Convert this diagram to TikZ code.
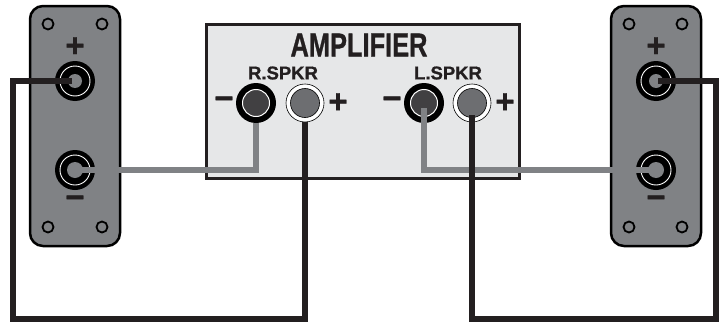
\documentclass[tikz,border=0pt]{standalone}
\usepackage{fontspec}
\setmainfont{Liberation Sans}[BoldFeatures={FakeBold=1}]
\usetikzlibrary{calc}
\definecolor{panelgray}{HTML}{808285}
\definecolor{ampgray}{HTML}{E6E7E8}
\definecolor{inkblack}{HTML}{231F20}
\definecolor{darkcore}{HTML}{414042}
\definecolor{midcore}{HTML}{6D6E71}
\tikzset{
  panel/.style={draw=black,fill=panelgray,line width=2.5pt,rounded corners=13pt},
  post/.style={circle,fill=black,minimum size=40pt,inner sep=0pt},
  jack/.style={circle,draw=black,fill=white,line width=.6pt,minimum size=38pt,inner sep=0pt},
  sign/.style={inner sep=0pt,text=inkblack,font=\bfseries\fontsize{33}{33}\selectfont},
  spkr/.style={inner sep=0pt,text=inkblack,font=\bfseries\fontsize{18.5}{20}\selectfont},
  graywire/.style={draw=panelgray,line width=6pt},
  blackwire/.style={draw=inkblack,line width=6pt}
}
\begin{document}
\begin{tikzpicture}[x=1pt,y=-1pt]
\useasboundingbox (0,0) rectangle (719,324);
% amplifier
\draw[draw=inkblack,fill=ampgray,line width=3pt] (206,24) rectangle (519,178);
\node[spkr,font=\bfseries\fontsize{33}{34}\selectfont] (amptitle) at (359,45) {\scalebox{.77}[1]{AMPLIFIER}};
\node[spkr] (rspkr) at (283,73) {R.SPKR};
\node[spkr] (lspkr) at (448,73) {L.SPKR};
\node[post] (ampRneg) at (256,103) {};
\node[jack] (ampRpos) at (305,103) {};
\node[post] (ampLneg) at (424,103) {};
\node[jack] (ampLpos) at (472,103) {};
\foreach \n in {ampRneg,ampLneg} {
  \draw[white,line width=1pt,fill=darkcore] (\n) circle (13.5);
}
\foreach \n in {ampRpos,ampLpos} {
  \draw[black,line width=.6pt,fill=midcore] (\n) circle (14.5);
}
\node[sign] (rminus) at (224,103) {−};
\node[sign] (rplus) at (338,103) {+};
\node[sign] (lminus) at (392,103) {−};
\node[sign] (lplus) at (505,103) {+};
% speakers
\draw[panel] (30,6) rectangle (120,246);
\draw[panel] (611,6) rectangle (701,246);
\foreach \x in {48,102,629,682} {
  \foreach \y in {24,227} {
    \draw[black,line width=1.8pt,fill=panelgray] (\x,\y) circle (5.5);
  }
}
\node[sign] (spkLplussign) at (75,47) {+};
\node[sign] (spkLminussign) at (75,202) {−};
\node[sign] (spkRplussign) at (656,47) {+};
\node[sign] (spkRminussign) at (656,202) {−};
\node[post] (spkLplus) at (75,81) {};
\node[post] (spkLminus) at (75,170) {};
\node[post] (spkRplus) at (656,81) {};
\node[post] (spkRminus) at (656,170) {};
\foreach \n in {spkLplus,spkLminus,spkRplus,spkRminus} {
  \draw[white,line width=.9pt] (\n) circle (15);
}
\fill[panelgray] (spkLplus) circle (7);
\fill[panelgray] (spkRplus) circle (7);
\fill[panelgray] (spkLminus) circle (8);
\fill[panelgray] (spkRminus) circle (8);
% wires
\coordinate (spkLend) at (72,81);
\coordinate (leftdrop) at (13,319);
\coordinate (spkRend) at (658,81);
\coordinate (rightdrop) at (716,319);
\coordinate (ampLnegend) at (424,108);
\coordinate (ampLposend) at (472,115);
\draw[graywire] (spkLminus.center) -| (ampRneg.south);
\draw[graywire] (spkRminus.center) -| (ampLnegend);
\draw[blackwire] (spkLend) -| (leftdrop) -| (ampRpos.south);
\draw[blackwire] (ampLposend) |- (rightdrop) |- (spkRend);
\end{tikzpicture}
\end{document}
